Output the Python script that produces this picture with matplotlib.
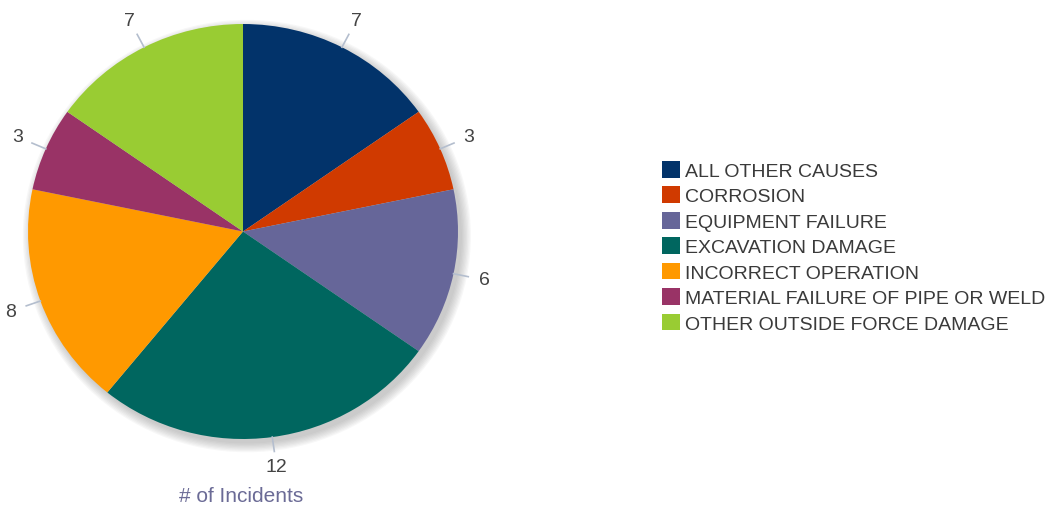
import numpy as np
import matplotlib.pyplot as plt
from matplotlib.patches import Ellipse, Patch

plt.rcParams['font.family'] = ['Liberation Sans', 'DejaVu Sans']

causes = ['ALL OTHER CAUSES', 'CORROSION', 'EQUIPMENT FAILURE', 'EXCAVATION DAMAGE',
          'INCORRECT OPERATION', 'MATERIAL FAILURE OF PIPE OR WELD', 'OTHER OUTSIDE FORCE DAMAGE']
incidents = [7, 3, 6, 12, 8, 3, 7]
colors = ['#02336a', '#d03a00', '#666699', '#00665f', '#ff9900', '#993366', '#99cc33']

W, H = 1057, 510
fig = plt.figure(figsize=(W / 100, H / 100), dpi=100)

# pie occupies x 28..458, y 25..440 (pixels from top)
ax = fig.add_axes([28 / W, (H - 440) / H, 430 / W, 415 / H])

# soft shadow behind the pie
for k in range(8):
    ax.add_patch(Ellipse((0.018, -0.022), 2 + 0.012 * k, 2 + 0.012 * k,
                         facecolor='#808080', edgecolor='none', alpha=0.06,
                         zorder=0, clip_on=False))

wedges, _ = ax.pie(incidents, colors=colors, startangle=90, counterclock=False,
                   radius=1.0, wedgeprops=dict(linewidth=0, zorder=1))
ax.set_aspect('auto')
ax.set_xlim(-1, 1)
ax.set_ylim(-1, 1)
ax.axis('off')

total = sum(incidents)
cum = np.cumsum([0] + incidents[:-1])
for v, c in zip(incidents, cum):
    ang = np.deg2rad(90 - (c + v / 2) / total * 360)
    ca, sa = np.cos(ang), np.sin(ang)
    ax.plot([ca * 1.0, ca * 1.07], [sa * 1.0, sa * 1.07], color='#b4bece', lw=1.2,
            clip_on=False, zorder=2)
    ax.text(ca * 1.145, sa * 1.145, str(v), ha='center', va='center',
            fontsize=14, color='#444444', clip_on=False)

fig.text(241 / W, 1 - 497 / H, '# of Incidents', ha='center', va='center',
         fontsize=15, color='#6b6b96')

handles = [Patch(facecolor=c, edgecolor='none') for c in colors]
fig.legend(handles, causes, loc='upper left', bbox_to_anchor=(654 / W, 1 - 154 / H),
           frameon=False, fontsize=14, labelcolor='#3a3a3a', handlelength=0.95,
           handleheight=0.95, handletextpad=0.25, labelspacing=0.33, borderaxespad=0)

fig.savefig('out.png', dpi=100)
